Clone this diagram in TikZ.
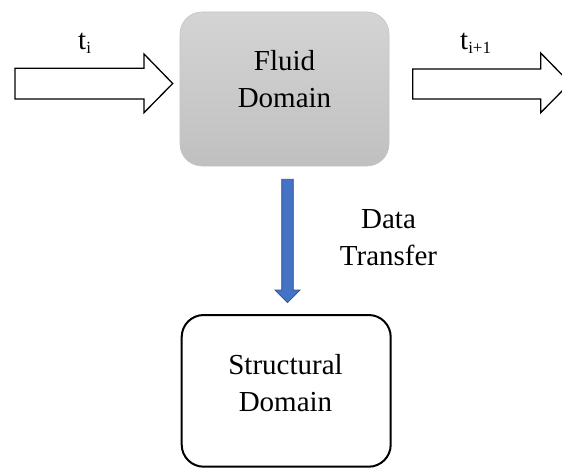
\documentclass[tikz,border=0pt]{standalone}
\usepackage{fontspec}
\setmainfont{Liberation Serif}
\definecolor{boxtop}{HTML}{D4D4D4}
\definecolor{boxbot}{HTML}{C0C0C0}
\definecolor{boxedge}{HTML}{C4C4C4}
\definecolor{arrfill}{HTML}{4472C4}
\definecolor{arredge}{HTML}{2F528F}
\begin{document}
\begin{tikzpicture}[x=1pt,y=-1pt,
  bigtext/.style={font=\fontsize{29}{37}\selectfont, inner sep=0pt, align=center},
  hollowarrow/.style={draw=black, line width=1.3pt, fill=white, line join=miter}]
\useasboundingbox (0,0) rectangle (562,468);
% fluid box
\node[draw=boxedge, line width=0.6pt, rounded corners=22pt, top color=boxtop, bottom color=boxbot,
  minimum width=209pt, minimum height=154pt, inner sep=0pt] (fluid) at (284.5,89) {};
\node[bigtext, anchor=base] (fluidtxt) at (284.5,107.3) {Fluid\\Domain};
% structural box
\node[draw=black, line width=2pt, rounded corners=22pt, fill=white,
  minimum width=209pt, minimum height=151.7pt, inner sep=0pt] (struct) at (286.2,390.85) {};
\node[bigtext, anchor=base] (structtxt) at (285.5,411) {Structural\\Domain};
% left hollow arrow
\draw[hollowarrow] (15,68.3) -- (144,68.3) -- (144,54) -- (172.7,83.5) -- (144,112.7) -- (144,99) -- (15,99) -- cycle;
% right hollow arrow
\draw[hollowarrow] (412.7,69) -- (540.7,69) -- (540.7,53) -- (570,83) -- (540.7,112.7) -- (540.7,99) -- (412.7,99) -- cycle;
% labels
\node[anchor=base west, inner sep=0pt, font=\fontsize{29}{29}\selectfont] (ti) at (78,50)
  {t\raisebox{-4pt}{\fontsize{17}{17}\selectfont i}};
\node[anchor=base west, inner sep=0pt, font=\fontsize{29}{29}\selectfont] (tip) at (460,50)
  {t\raisebox{-4pt}{\fontsize{17}{17}\selectfont i+1}};
% blue transfer arrow
\fill[arrfill, draw=arredge, line width=0.7pt]
  (281.7,179.3) -- (293.3,179.3) -- (293.3,290) -- (300,290) -- (287.5,302.7) -- (275,290) -- (281.7,290) -- cycle;
\node[bigtext, anchor=base] (dt) at (388.5,265) {Data\\Transfer};
\end{tikzpicture}
\end{document}
